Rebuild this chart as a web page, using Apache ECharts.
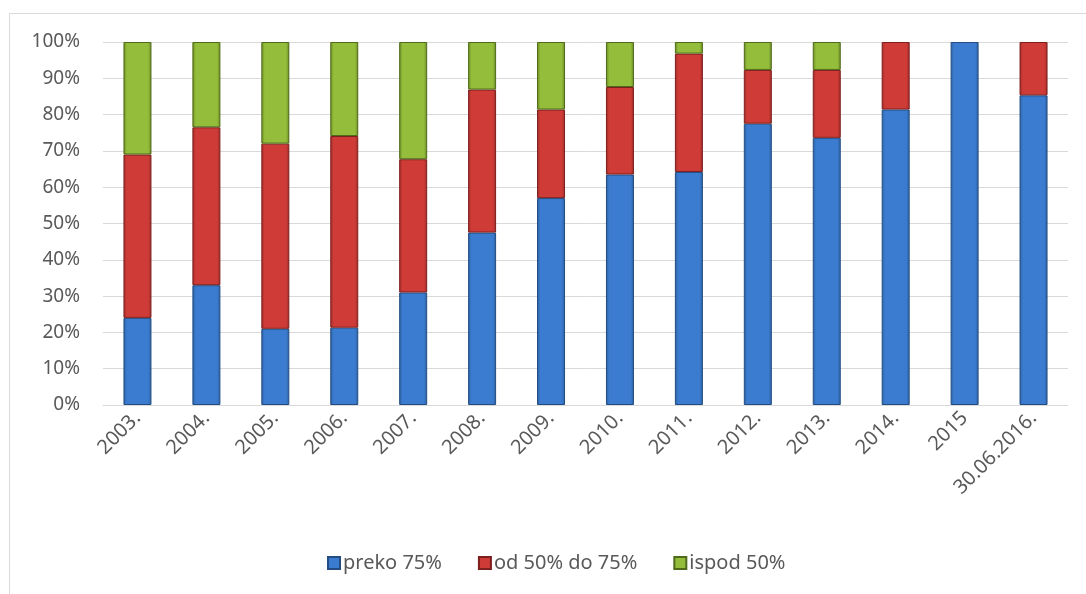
<!DOCTYPE html>
<html><head><meta charset="utf-8">
<script src="https://cdn.jsdelivr.net/npm/echarts@6/dist/echarts.min.js"></script>
<style>html,body{margin:0;padding:0;background:#fff}#c{width:1086px;height:594px}</style>
</head><body><div id="c"></div>
<script>
const categories = ['2003.','2004.','2005.','2006.','2007.','2008.','2009.','2010.','2011.','2012.','2013.','2014.','2015','30.06.2016.'];
const seriesNames = ['preko 75%','od 50% do 75%','ispod 50%'];
const preko75 = [24, 33, 21, 21.3, 31, 47.5, 57, 63.5, 64.2, 77.5, 73.6, 81.4, 100, 85.3];
const od50do75 = [45, 43.5, 51, 52.8, 36.7, 39.4, 24.4, 24.1, 32.6, 14.8, 18.7, 18.6, 0, 14.7];
const ispod50 = [31, 23.5, 28, 25.9, 32.3, 13.1, 18.6, 12.4, 3.2, 7.7, 7.7, 0, 0, 0];
const yTicks = [0,10,20,30,40,50,60,70,80,90,100];

function grad(edge, mid){
  return {type:'linear',x:0,y:0,x2:1,y2:0,colorStops:[
    {offset:0,color:edge},{offset:0.12,color:mid},{offset:0.88,color:mid},{offset:1,color:edge}]};
}
const styles = [
  {color:grad('#2c5f9e','#3b7cd0'), borderColor:'#234d82'},
  {color:grad('#9e2b28','#cf3c38'), borderColor:'#7d1f1d'},
  {color:grad('#6b8a25','#93bd3a'), borderColor:'#4f6a18'}
];
const datas = [preko75, od50do75, ispod50];
const font = 'Noto Sans, Open Sans, sans-serif';
const chart = echarts.init(document.getElementById('c'));
chart.setOption({
  animation:false,
  graphic:[{type:'rect',shape:{x:9.5,y:13.5,width:1100,height:620},style:{fill:'none',stroke:'#d9d9d9',lineWidth:1},silent:true,z:-1}],
  grid:{left:103,right:18,top:42,bottom:189},
  legend:{top:548,left:322,itemWidth:12,itemHeight:12,itemGap:36,icon:'rect',
    textStyle:{color:'#595959',fontSize:20,fontFamily:font,padding:[0,0,0,-2]},data:seriesNames},
  xAxis:{type:'category',data:categories,
    axisLine:{lineStyle:{color:'#d9d9d9'}},axisTick:{show:false},
    axisLabel:{rotate:45,color:'#595959',fontSize:20,fontFamily:font,margin:10,interval:0}},
  yAxis:{type:'value',min:0,max:100,interval:10,
    axisLabel:{formatter:v=>v+'%',color:'#595959',fontSize:19,fontFamily:font,margin:23},
    splitLine:{lineStyle:{color:'#d9d9d9',width:1}},axisLine:{show:false},axisTick:{show:false}},
  series: seriesNames.map((n,i)=>({name:n,type:'bar',stack:'s',barWidth:28,
    data:datas[i].map(v=>v===0?null:v),
    itemStyle:{color:styles[i].color,borderColor:styles[i].borderColor,borderWidth:1}}))
});
</script></body></html>
